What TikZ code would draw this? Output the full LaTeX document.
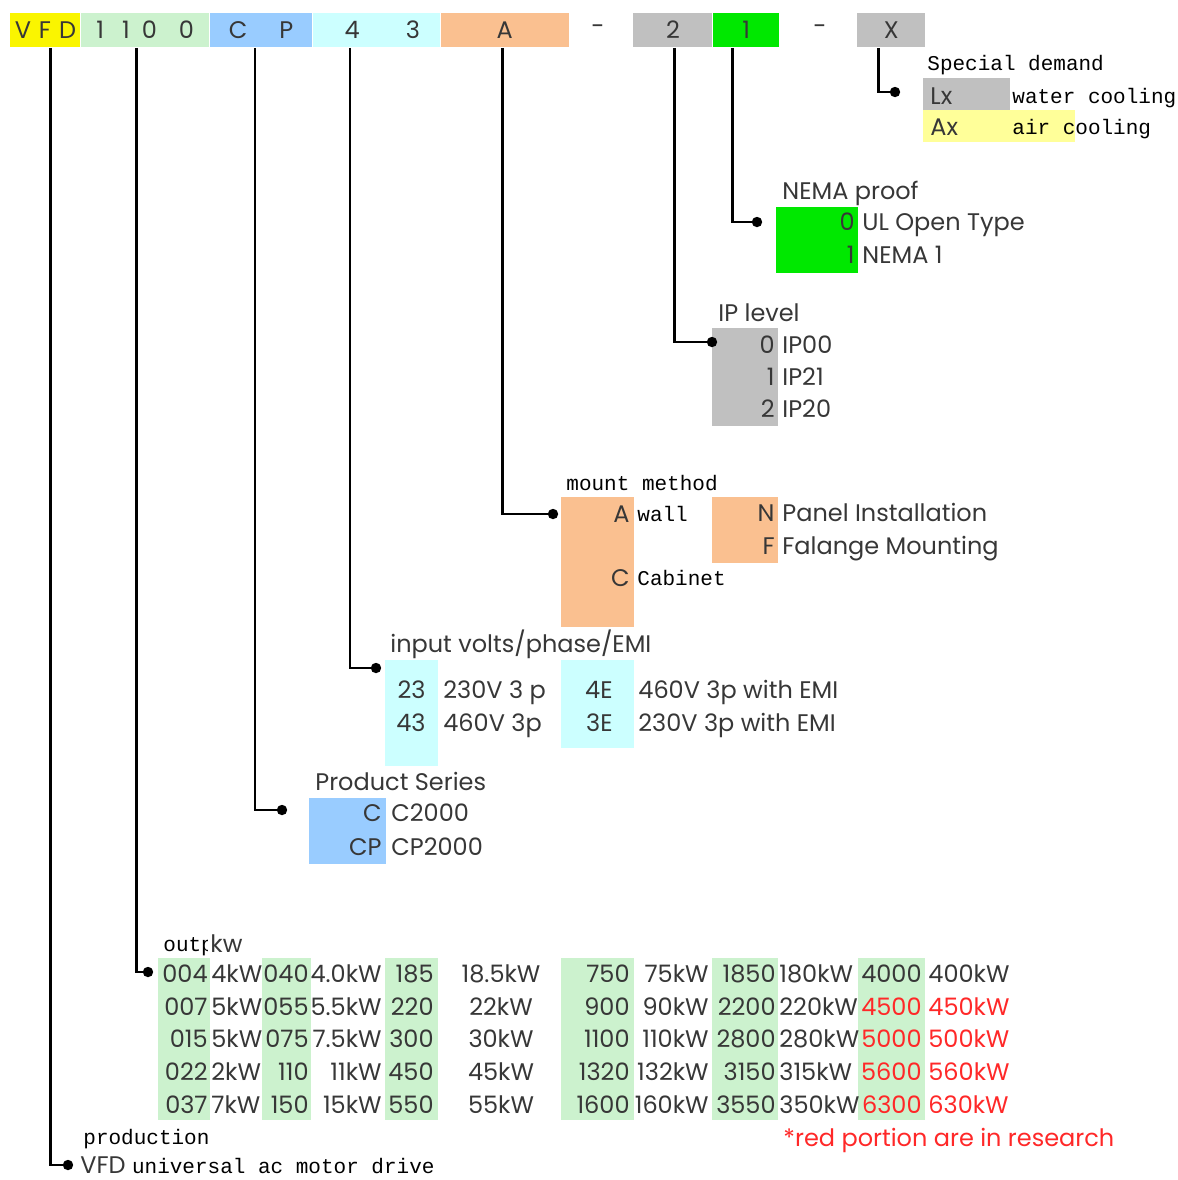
\documentclass[tikz,border=0pt]{standalone}
\usepackage{fontspec}
\setmainfont{Poppins}
\newfontfamily\mingfont{Liberation Mono}
\usetikzlibrary{positioning,calc}

\definecolor{vfdyellow}{RGB}{250,245,0}
\definecolor{kwgreen}{RGB}{204,242,206}
\definecolor{serblue}{RGB}{153,204,255}
\definecolor{voltcyan}{RGB}{204,255,255}
\definecolor{mntorange}{RGB}{250,192,144}
\definecolor{ipgray}{RGB}{192,192,192}
\definecolor{nemagreen}{RGB}{0,232,0}
\definecolor{axyellow}{RGB}{255,255,153}
\definecolor{resred}{RGB}{255,40,40}
\definecolor{inkgray}{RGB}{55,55,55}

\newcommand\txtsize{\fontsize{12}{14}\selectfont}

\tikzset{
    hdr/.style={anchor=north west, minimum height=17pt, inner sep=0pt, text=inkgray, text height=8.4pt, text depth=0pt},
    blk/.style={anchor=north west, inner sep=0pt},
    code/.style={anchor=east, inner sep=0pt, text=inkgray, text height=8.4pt, text depth=0pt},
    desc/.style={anchor=west, inner sep=0pt, text=inkgray, text height=8.4pt, text depth=0pt},
    ming/.style={anchor=west, inner sep=0pt, text=black, font=\fontsize{10.5}{12}\mingfont, text height=7pt, text depth=0pt},
    lead/.style={line width=1.3pt},
    dot/.style={circle, fill=black, inner sep=0pt, minimum size=5.2pt},
}

\begin{document}
\begin{tikzpicture}[x=0.5pt, y=-0.5pt, font=\txtsize]
    \useasboundingbox (0,0) rectangle (1178,1180);

    % model number
    \node[hdr, fill=vfdyellow, minimum width=35pt] (hVFD) at (10,13) {V\hspace{4pt}F\hspace{4pt}D};
    \node[hdr, fill=kwgreen, minimum width=64pt, right=0pt of hVFD] (hKW) {1\hspace{9pt}1\hspace{6pt}0\hspace{11pt}0};
    \node[hdr, fill=serblue, minimum width=51pt, right=0pt of hKW] (hSer) {C\hspace{16pt}P};
    \node[hdr, fill=voltcyan, minimum width=63.5pt, right=0pt of hSer] (hVolt) {\hspace{6pt}4\hspace{23pt}3};
    \node[hdr, fill=mntorange, minimum width=64pt, right=0pt of hVolt] (hMnt) {A};
    \node[text=inkgray] (dash1) at (598,30) {-};
    \node[hdr, fill=ipgray, minimum width=39.5pt] (hIP) at (633,13) {2};
    \node[hdr, fill=nemagreen, minimum width=33pt, right=0pt of hIP] (hNema) {1};
    \node[text=inkgray] (dash2) at (820,30) {-};
    \node[hdr, fill=ipgray, minimum width=34pt] (hSpc) at (857,13) {X};

    % special demand
    \node[ming] (tSpc) at (927,63) {Special demand};
    \node[blk, fill=ipgray, minimum width=43.5pt, minimum height=16pt] (bLx) at (923,78) {};
    \node[blk, fill=axyellow, minimum width=76pt, minimum height=16pt] (bAx) at (923,110) {};
    \node[desc] (cLx) at (930,96) {Lx};
    \node[ming] (vLx) at (1012,96) {water cooling};
    \node[desc] (cAx) at (930,127) {Ax};
    \node[ming] (vAx) at (1012,127) {air cooling};

    % NEMA proof
    \node[desc] (tNema) at (782,191) {NEMA proof};
    \node[blk, fill=nemagreen, minimum width=41pt, minimum height=33pt] (bNema) at (776,207) {};
    \foreach \c/\v [count=\i] in {0/UL Open Type, 1/NEMA 1}{
        \node[code] (cNema\i) at (855,{189+33*\i}) {\c};
        \node[desc] (vNema\i) at (862,{189+33*\i}) {\v};
    }

    % IP level
    \node[desc] (tIP) at (718,313) {IP level};
    \node[blk, fill=ipgray, minimum width=33pt, minimum height=49pt] (bIP) at (712,328) {};
    \foreach \c/\v [count=\i] in {0/IP00, 1/IP21, 2/IP20}{
        \node[code] (cIP\i) at (775,{313+32*\i}) {\c};
        \node[desc] (vIP\i) at (782,{313+32*\i}) {\v};
    }

    % mount method
    \node[ming] (tMnt) at (566,483) {mount method};
    \node[blk, fill=mntorange, minimum width=36.5pt, minimum height=65pt] (bMntA) at (561,497) {};
    \node[blk, fill=mntorange, minimum width=33pt, minimum height=33pt] (bMntN) at (712,497) {};
    \node[code] (cMntA) at (630,514) {A};
    \node[ming] (vMntA) at (637,514) {wall};
    \node[code] (cMntC) at (630,578) {C};
    \node[ming] (vMntC) at (637,578) {Cabinet};
    \node[code] (cMntN) at (775,513) {N};
    \node[desc] (vMntN) at (782,513) {Panel Installation};
    \node[code] (cMntF) at (775,546) {F};
    \node[desc] (vMntF) at (782,546) {Falange Mounting};

    % input volts
    \node[desc] (tVolt) at (390,644) {input volts/phase/EMI};
    \node[blk, fill=voltcyan, minimum width=26.5pt, minimum height=53pt] (bVoltA) at (385,660) {};
    \node[blk, fill=voltcyan, minimum width=36.5pt, minimum height=44pt] (bVoltB) at (561,660) {};
    \foreach \c/\v/\cc/\vv [count=\i] in {23/230V 3 p/4E/460V 3p with EMI, 43/460V 3p/3E/230V 3p with EMI}{
        \node[code] (cVoltA\i) at (426,{657+33*\i}) {\c};
        \node[desc] (vVoltA\i) at (443,{657+33*\i}) {\v};
        \node[code] (cVoltB\i) at (613,{657+33*\i}) {\cc};
        \node[desc] (vVoltB\i) at (638,{657+33*\i}) {\vv};
    }

    % product series
    \node[desc] (tSer) at (315,782) {Product Series};
    \node[blk, fill=serblue, minimum width=38.5pt, minimum height=33pt] (bSer) at (309,798) {};
    \foreach \c/\v [count=\i] in {C/C2000, CP/CP2000}{
        \node[code] (cSer\i) at (382,{779+34*\i}) {\c};
        \node[desc] (vSer\i) at (391,{779+34*\i}) {\v};
    }

    % output kw
    \node[ming] (tKW) at (163,944) {outp};
    \node[desc, fill=white, inner xsep=1pt] (tKWb) at (208,944) {kw};
    \foreach \x/\w in {158/26, 262/24.5, 385/26.5, 561/36.5, 712/33, 858/33.5}{
        \node[blk, fill=kwgreen, minimum width=\w pt, minimum height=81pt] at (\x,958) {};
    }
    \foreach \a/\b/\c/\d/\e/\f [count=\i] in {004/4kW/040/4.0kW/185/18.5kW, 007/5kW/055/5.5kW/220/22kW, 015/5kW/075/7.5kW/300/30kW, 022/2kW/110/11kW/450/45kW, 037/7kW/150/15kW/550/55kW}{
        \node[code] (kwA\i) at (208,{941.25+32.75*\i}) {\a};
        \node[desc] (kwAv\i) at (211,{941.25+32.75*\i}) {\b};
        \node[code] (kwB\i) at (309,{941.25+32.75*\i}) {\c};
        \node[code] (kwBv\i) at (382,{941.25+32.75*\i}) {\d};
        \node[code] (kwC\i) at (434,{941.25+32.75*\i}) {\e};
        \node[code, anchor=center] (kwCv\i) at (501,{941.25+32.75*\i}) {\f};
    }
    \foreach \a/\b/\c/\d/\e/\f/\col [count=\i] in {750/75kW/1850/180kW/4000/400kW/inkgray, 900/90kW/2200/220kW/4500/450kW/resred, 1100/110kW/2800/280kW/5000/500kW/resred, 1320/132kW/3150/315kW/5600/560kW/resred, 1600/160kW/3550/350kW/6300/630kW/resred}{
        \node[code] (kwD\i) at (630,{941.25+32.75*\i}) {\a};
        \node[code] (kwDv\i) at (709,{941.25+32.75*\i}) {\b};
        \node[code] (kwE\i) at (776,{941.25+32.75*\i}) {\c};
        \node[desc] (kwEv\i) at (779,{941.25+32.75*\i}) {\d};
        \node[code, text=\col] (kwF\i) at (922,{941.25+32.75*\i}) {\e};
        \node[desc, text=\col] (kwFv\i) at (928,{941.25+32.75*\i}) {\f};
    }
    \node[desc, text=resred] (note) at (783,1138) {*red portion are in research};

    % production
    \node[ming] (tVFD) at (83,1137) {production};
    \node[desc] (vVFD) at (80,1165) {VFD {\fontsize{10.5}{12}\mingfont\color{black} universal ac motor drive}};

    % leads, drawn last so the dots sit on top
    \node[dot] (dSpc) at (895,92) {};
    \node[dot] (dNema) at (757,222) {};
    \node[dot] (dIP) at (712,342) {};
    \node[dot] (dMnt) at (553,514) {};
    \node[dot] (dVolt) at (376,668) {};
    \node[dot] (dSer) at (282,810) {};
    \node[dot] (dKW) at (148,972) {};
    \node[dot] (dVFD) at (68,1165) {};

    \draw[lead] ($(hSpc.south)+(-13,0)$) |- (dSpc.center);
    \draw[lead] ($(hNema.south)+(-14,0)$) |- (dNema.center);
    \draw[lead] ($(hIP.south)+(1.5,0)$) |- (dIP.center);
    \draw[lead] ($(hMnt.south)+(-2,0)$) |- (dMnt.center);
    \draw[lead] ($(hVolt.south)+(-26.5,0)$) |- (dVolt.center);
    \draw[lead] ($(hSer.south)+(-6,0)$) |- (dSer.center);
    \draw[lead] ($(hKW.south)+(-9,0)$) |- (dKW.center);
    \draw[lead] ($(hVFD.south)+(5,0)$) |- (dVFD.center);

\end{tikzpicture}
\end{document}
